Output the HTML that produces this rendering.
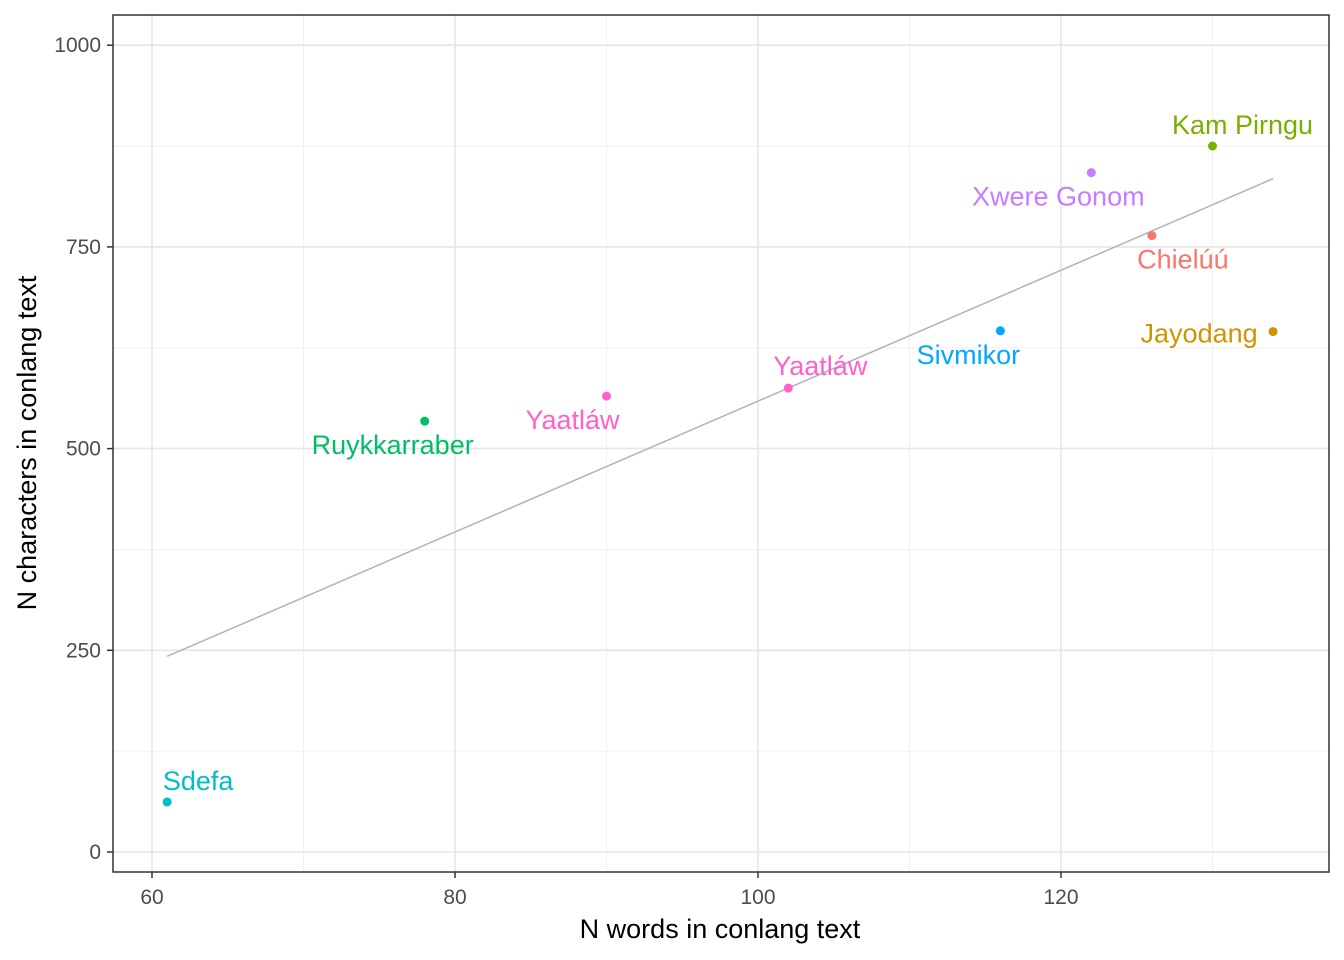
<!DOCTYPE html>
<html><head><meta charset="utf-8"><style>
body{margin:0;background:#fff;}
svg{display:block;font-family:"Liberation Sans",sans-serif;}
</style></head><body>
<svg id="chart" width="1344" height="960">
<rect width="1344" height="960" fill="#fff"/>
<g id="grid"></g><g id="marks"></g><g id="axes"></g>
<text x="720" y="938" text-anchor="middle" font-size="27" fill="#000">N words in conlang text</text>
<text transform="translate(36,443) rotate(-90)" text-anchor="middle" font-size="27" fill="#000">N characters in conlang text</text>
</svg>
<script>
const names=["Sdefa","Ruykkarraber","Yaatláw","Yaatláw","Sivmikor","Xwere Gonom","Chielúú","Kam Pirngu","Jayodang"];
const words=[61,78,90,102,116,122,126,130,134];
const chars=[62,534,565,575,646,842,764,875,645];
const colors=["#00BFC4","#00BE67","#FF61CC","#FF61CC","#00A9FF","#C77CFF","#F8766D","#7CAE00","#CD9600"];
const xTicks=[60,80,100,120];
const xMinor=[70,90,110,130];
const yTicks=[0,250,500,750,1000];
const yMinor=[125,375,625,875];
// label offsets (px) relative to point
const ldx=[31,-32,-34,32,-32,-33,31,30,-74];
const ldy=[-12,33,33,-13,33,33,33,-12,11];
const L=113,R=1329,T=15,B=872;
const X=v=>152+(v-60)*15.15;
const Y=v=>852-v*0.8068;
const NS="http://www.w3.org/2000/svg";
function mk(p,tag,a){const e=document.createElementNS(NS,tag);for(const k in a)e.setAttribute(k,a[k]);p.appendChild(e);return e;}
const grid=document.getElementById('grid'),marks=document.getElementById('marks'),axes=document.getElementById('axes');
xMinor.forEach(v=>{const l=mk(grid,'line',{x1:X(v),x2:X(v),y1:T,y2:B,stroke:'#f0f0f0','stroke-width':1});

});
yMinor.forEach(v=>{const l=mk(grid,'line',{x1:L,x2:R,y1:Y(v),y2:Y(v),stroke:'#f0f0f0','stroke-width':1});

});
xTicks.forEach(v=>{const l=mk(grid,'line',{x1:X(v),x2:X(v),y1:T,y2:B,stroke:'#e6e6e6','stroke-width':1.6});


const t=mk(axes,'line',{x1:X(v),x2:X(v),y1:B,y2:B+6,stroke:'#333','stroke-width':1.5});


const tx=mk(axes,'text',{x:X(v),y:B+32,'text-anchor':'middle','font-size':21,fill:'#4d4d4d'});tx.textContent=v;

});
yTicks.forEach(v=>{const l=mk(grid,'line',{x1:L,x2:R,y1:Y(v),y2:Y(v),stroke:'#e6e6e6','stroke-width':1.6});


const t=mk(axes,'line',{x1:L-6,x2:L,y1:Y(v),y2:Y(v),stroke:'#333','stroke-width':1.5});


const tx=mk(axes,'text',{x:L-12,y:Y(v)+7,'text-anchor':'end','font-size':21,fill:'#4d4d4d'});tx.textContent=v;

});
const fr=mk(axes,'rect',{x:L,y:T,width:R-L,height:B-T,fill:'none',stroke:'#333','stroke-width':1.5});


const n=words.length,mx=words.reduce((a,b)=>a+b)/n,my=chars.reduce((a,b)=>a+b)/n;
let sxy=0,sxx=0;words.forEach((w,i)=>{sxy+=(w-mx)*(chars[i]-my);sxx+=(w-mx)**2;});
const sl=sxy/sxx,ic=my-sl*mx,x0=Math.min(...words),x1=Math.max(...words);
const rl=mk(marks,'line',{x1:X(x0),y1:Y(ic+sl*x0),x2:X(x1),y2:Y(ic+sl*x1),stroke:'#b3b3b3','stroke-width':1.5});


words.forEach((w,i)=>{const c=mk(marks,'circle',{cx:X(w),cy:Y(chars[i]),r:4.5,fill:colors[i]});


const t=mk(marks,'text',{x:X(w)+ldx[i],y:Y(chars[i])+ldy[i],'text-anchor':'middle','font-size':27,fill:colors[i]});t.textContent=names[i];

});
</script>
</body></html>
